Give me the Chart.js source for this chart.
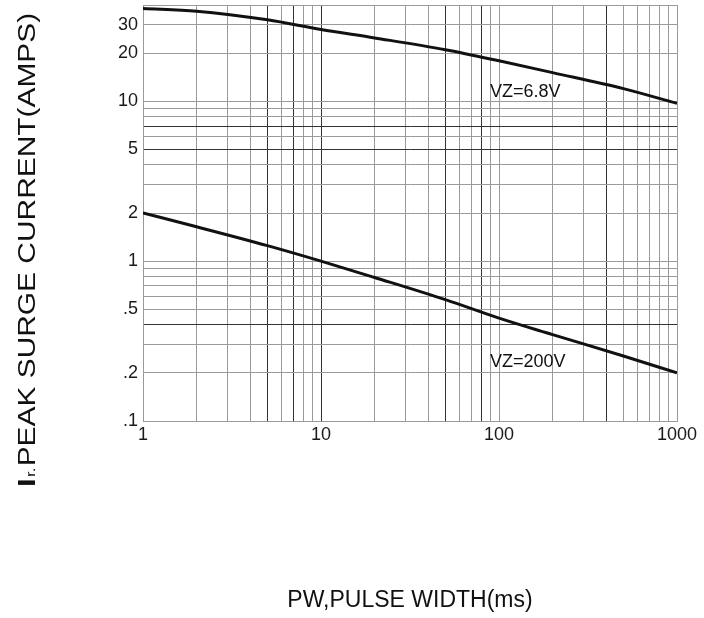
<!DOCTYPE html>
<html>
<head>
<meta charset="utf-8">
<script src="https://cdn.jsdelivr.net/npm/chart.js@4"></script>
<style>
  html, body { margin: 0; background: #fff; }
  #wrap { width: 704px; height: 618px; position: relative; }
</style>
</head>
<body>
<div id="wrap"><canvas id="surgeChart"></canvas></div>
<script>
// values (log-log)
const pulseWidth = [1, 2, 5, 10, 20, 50, 100, 200, 500, 1000];
const currentVz68 = [38, 36.6, 32.3, 28.1, 24.9, 21.0, 17.9, 15.1, 12.0, 9.7];
const currentVz200 = [2.0, 1.64, 1.25, 1.0, 0.79, 0.574, 0.44, 0.347, 0.255, 0.2];

const xTickLabels = [1, 10, 100, 1000];
const yTickValues = [30, 20, 10, 5, 2, 1, 0.5, 0.2, 0.1];
const yTickText = ['30', '20', '10', '5', '2', '1', '.5', '.2', '.1'];

const curveNames = ['VZ=6.8V', 'VZ=200V'];
const curveNameAt = [[89, 11.4], [89, 0.234]];

// a few grid lines came out darker on the original print
const darkX = [5, 7, 10, 50, 80, 400];
const darkY = [7, 5, 0.4];

const FONT = '"Liberation Sans", Arial, sans-serif';

function decadeGrid(lo, hi) {
  const out = [];
  for (let e = Math.floor(Math.log10(lo)); e <= Math.ceil(Math.log10(hi)); e++) {
    for (let m = 1; m < 10; m++) {
      const v = parseFloat((m * Math.pow(10, e)).toPrecision(6));
      if (v >= lo && v <= hi && !out.includes(v)) out.push(v);
    }
  }
  if (!out.includes(hi)) out.push(hi);
  return out;
}

const yTitlePlugin = {
  id: 'yTitle',
  afterDraw(chart) {
    const ctx = chart.ctx;
    ctx.save();
    ctx.translate(35, 487);
    ctx.rotate(-Math.PI / 2);
    ctx.scale(1.3, 1);
    ctx.fillStyle = '#111';
    ctx.textAlign = 'left';
    ctx.textBaseline = 'alphabetic';
    let x = 0;
    ctx.font = 'bold 24px ' + FONT;
    ctx.fillText('I', x, 0);
    x += ctx.measureText('I').width + 1;
    ctx.font = '13px ' + FONT;
    ctx.fillText('r.', x, 0);
    x += ctx.measureText('r.').width + 1;
    ctx.font = '23px ' + FONT;
    ctx.fillText('PEAK SURGE CURRENT(AMPS)', x, 0);
    ctx.restore();
  }
};

const curveNamePlugin = {
  id: 'curveNames',
  afterDatasetsDraw(chart) {
    const ctx = chart.ctx;
    const xs = chart.scales.x, ys = chart.scales.y;
    ctx.save();
    ctx.font = '18px ' + FONT;
    ctx.fillStyle = '#111';
    ctx.textAlign = 'left';
    ctx.textBaseline = 'middle';
    curveNames.forEach((name, i) => {
      ctx.fillText(name, xs.getPixelForValue(curveNameAt[i][0]), ys.getPixelForValue(curveNameAt[i][1]));
    });
    ctx.restore();
  }
};

const ctx = document.getElementById('surgeChart').getContext('2d');
const chart = new Chart(ctx, {
  type: 'line',
  data: {
    datasets: [{
      label: curveNames[0],
      data: pulseWidth.map((x, i) => ({ x: x, y: currentVz68[i] })),
      borderColor: '#111',
      borderWidth: 3,
      cubicInterpolationMode: 'monotone'
    }, {
      label: curveNames[1],
      data: pulseWidth.map((x, i) => ({ x: x, y: currentVz200[i] })),
      borderColor: '#111',
      borderWidth: 3,
      cubicInterpolationMode: 'monotone'
    }]
  },
  options: {
    responsive: true,
    maintainAspectRatio: false,
    animation: false,
    layout: { padding: { top: 5, right: 27, left: 0, bottom: 0 } },
    elements: { point: { radius: 0 } },
    plugins: { legend: { display: false }, tooltip: { enabled: false } },
    scales: {
      x: {
        type: 'logarithmic',
        min: 1,
        max: 1000,
        bounds: 'data',
        afterBuildTicks: s => { s.ticks = decadeGrid(1, 1000).map(v => ({ value: v })); },
        afterFit: s => { s.height = 197; },
        grid: {
          color: c => (c.tick && darkX.includes(c.tick.value)) ? '#333' : '#9a9a9a',
          lineWidth: 1,
          drawTicks: false
        },
        border: { color: '#9a9a9a' },
        ticks: {
          autoSkip: false,
          maxRotation: 0,
          padding: 3,
          color: '#1a1a1a',
          font: { family: FONT, size: 18 },
          callback: v => xTickLabels.includes(v) ? String(v) : ''
        },
        title: {
          display: true,
          text: 'PW,PULSE WIDTH(ms)',
          color: '#111',
          font: { family: FONT, size: 23 },
          padding: { top: 0, bottom: 4 }
        }
      },
      y: {
        type: 'logarithmic',
        min: 0.1,
        max: 40,
        bounds: 'data',
        afterBuildTicks: s => { s.ticks = decadeGrid(0.1, 40).map(v => ({ value: v })); },
        afterFit: s => { s.width = 143; s.paddingTop = 0; s.paddingBottom = 0; },
        grid: {
          color: c => (c.tick && darkY.includes(c.tick.value)) ? '#333' : '#9a9a9a',
          lineWidth: 1,
          drawTicks: false
        },
        border: { color: '#9a9a9a' },
        ticks: {
          autoSkip: false,
          padding: 5,
          color: '#1a1a1a',
          font: { family: FONT, size: 18 },
          callback: v => {
            const k = yTickValues.indexOf(v);
            return k >= 0 ? yTickText[k] : '';
          }
        }
      }
    }
  },
  plugins: [yTitlePlugin, curveNamePlugin]
});
</script>
</body>
</html>
